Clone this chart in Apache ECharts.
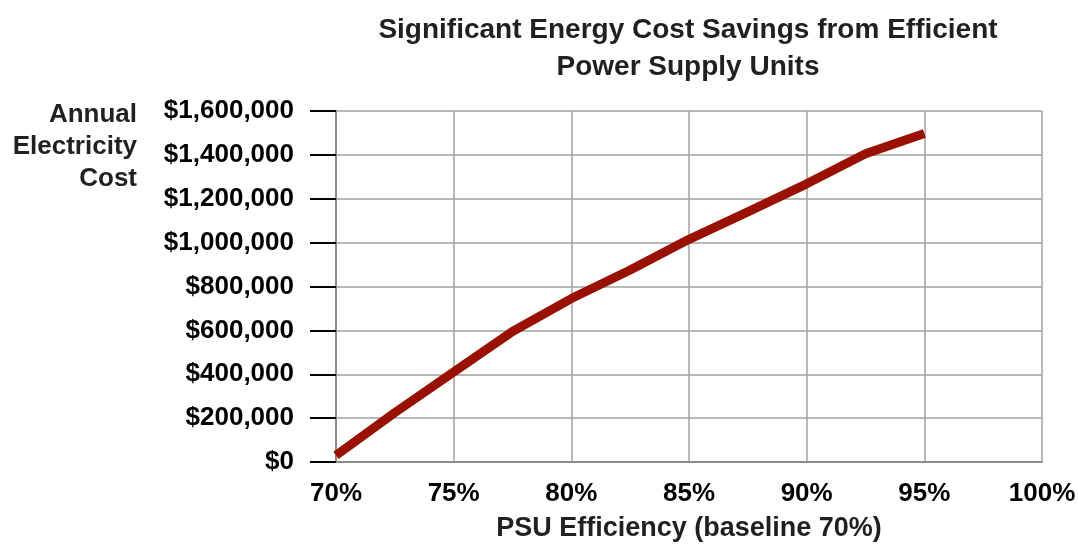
<!DOCTYPE html>
<html>
<head>
<meta charset="utf-8">
<script src="https://cdn.jsdelivr.net/npm/echarts@6/dist/echarts.min.js"></script>
<style>
  html, body { margin: 0; padding: 0; background: #fff; }
  #chart { width: 1078px; height: 544px; }
</style>
</head>
<body>
<div id="chart"></div>
<script>
// PSU efficiency (%) and annual electricity cost ($)
var efficiency = [70, 72.5, 75, 77.5, 80, 82.5, 85, 87.5, 90, 92.5, 95];
var annualCost = [30000, 225000, 410000, 595000, 745000, 875000, 1015000, 1140000, 1268000, 1405000, 1497000];
var xTicks = [70, 75, 80, 85, 90, 95, 100];
var yTicks = [0, 200000, 400000, 600000, 800000, 1000000, 1200000, 1400000, 1600000];

var chart = echarts.init(document.getElementById('chart'));

var points = [];
for (var i = 0; i < efficiency.length; i++) {
  points.push([efficiency[i], annualCost[i]]);
}

function money(v) {
  return '$' + v.toString().replace(/\B(?=(\d{3})+(?!\d))/g, ',');
}

var boldFont = 'Liberation Sans, Arial, Helvetica, sans-serif';

chart.setOption({
  animation: false,
  title: {
    text: 'Significant Energy Cost Savings from Efficient\nPower Supply Units',
    left: 683,
    top: 7,
    textAlign: 'center',
    textStyle: {
      fontFamily: boldFont,
      fontWeight: 'bold',
      fontSize: 28,
      lineHeight: 37,
      color: '#231f20'
    }
  },
  graphic: [{
    type: 'text',
    x: 137,
    y: 99,
    style: {
      text: 'Annual\nElectricity\nCost',
      textAlign: 'right',
      font: 'bold 26px ' + boldFont,
      lineHeight: 32,
      fill: '#231f20'
    }
  }],
  grid: { left: 336, right: 36, top: 111, bottom: 82, outerBoundsMode: 'none', containLabel: false },
  xAxis: {
    type: 'value',
    min: xTicks[0],
    max: xTicks[xTicks.length - 1],
    interval: 5,
    name: 'PSU Efficiency (baseline 70%)',
    nameLocation: 'middle',
    nameGap: 53,
    nameTextStyle: {
      fontFamily: boldFont,
      fontWeight: 'bold',
      fontSize: 27,
      color: '#231f20'
    },
    axisLine: { lineStyle: { color: '#8a8a8a', width: 2 } },
    axisTick: { show: false },
    axisLabel: {
      margin: 19,
      fontFamily: boldFont,
      fontWeight: 'bold',
      fontSize: 26,
      color: '#000',
      formatter: function (v) { return v + '%'; }
    },
    splitLine: { show: true, lineStyle: { color: '#a0a0a0', width: 1.5 } }
  },
  yAxis: {
    type: 'value',
    min: yTicks[0],
    max: yTicks[yTicks.length - 1],
    interval: 200000,
    axisLine: { show: true, lineStyle: { color: '#8a8a8a', width: 2 } },
    axisTick: { show: true, inside: false, length: 26, lineStyle: { color: '#000', width: 2 } },
    axisLabel: {
      margin: 42,
      fontFamily: boldFont,
      fontWeight: 'bold',
      fontSize: 26,
      color: '#000',
      formatter: money
    },
    splitLine: { show: true, lineStyle: { color: '#a0a0a0', width: 1.5 } }
  },
  series: [{
    type: 'line',
    data: points,
    showSymbol: false,
    symbol: 'none',
    lineStyle: { color: '#991102', width: 9, cap: 'butt', join: 'round' }
  }]
});
</script>
</body>
</html>
